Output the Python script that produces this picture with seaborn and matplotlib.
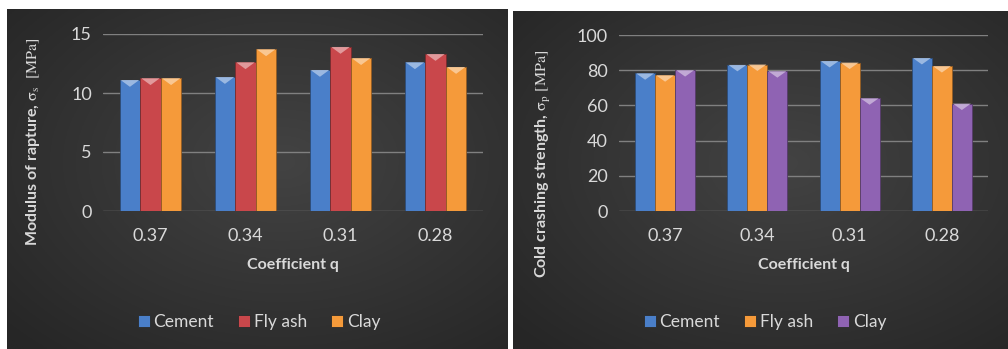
import numpy as np
import pandas as pd
import matplotlib
matplotlib.use("Agg")
import matplotlib.pyplot as plt
import seaborn as sns
from matplotlib.patches import Polygon
from matplotlib.colors import to_rgb

# ---- data ----
q_labels = ["0.37", "0.34", "0.31", "0.28"]
materials = ["Cement", "Fly ash", "Clay"]

rupture_cement = [11.1, 11.35, 11.95, 12.6]
rupture_flyash = [11.25, 12.6, 13.9, 13.3]
rupture_clay = [11.25, 13.7, 12.95, 12.2]

crushing_cement = [78.2, 83.0, 85.2, 86.9]
crushing_flyash = [77.1, 83.2, 84.3, 82.3]
crushing_clay = [80.0, 79.4, 64.0, 61.0]

left_colors = ["#4a7fc9", "#c9474b", "#f59a3a"]
right_colors = ["#4a7fc9", "#f59a3a", "#8f63b3"]

sns.set_theme(style="dark")
plt.rcParams["font.family"] = ["Lato", "DejaVu Sans"]
plt.rcParams["mathtext.fontset"] = "stix"

TXT = "#d9d9d9"
GRID = "#808080"


def long_frame(series):
    rows = []
    for mat, vals in zip(materials, series):
        for q, v in zip(q_labels, vals):
            rows.append({"q": q, "material": mat, "value": v})
    return pd.DataFrame(rows)


W, H = 1008, 349
fig = plt.figure(figsize=(W / 100, H / 100), dpi=100)
fig.patch.set_facecolor("white")


def panel_background(x0, y0, x1, y1, cx, cy):
    """Dark radial-gradient panel given in pixel coordinates (top-left origin)."""
    bg = fig.add_axes([x0 / W, 1 - y1 / H, (x1 - x0) / W, (y1 - y0) / H], zorder=-5)
    nx, ny = 300, 200
    xs = np.linspace(0, 1, nx)
    ys = np.linspace(0, 1, ny)
    X, Y = np.meshgrid(xs, ys)
    r = np.sqrt(((X - cx) / 0.75) ** 2 + ((Y - cy) / 0.75) ** 2)
    r = np.clip(r, 0, 1)
    inner = np.array(to_rgb("#434343"))
    outer = np.array(to_rgb("#262626"))
    img = inner[None, None, :] * (1 - r[..., None]) + outer[None, None, :] * r[..., None]
    bg.imshow(img, aspect="auto", extent=[0, 1, 0, 1], origin="upper")
    bg.set_axis_off()


def add_bevels(ax, colors_by_container):
    """Lighter chevron at the top of every bar."""
    inv = ax.transData.inverted()
    for cont, col in zip(ax.containers, colors_by_container):
        light = np.array(to_rgb(col))
        light = tuple(light + (1 - light) * 0.5)
        for p in cont.patches:
            x0, w = p.get_x(), p.get_width()
            top = p.get_y() + p.get_height()
            (dx0, dtop) = ax.transData.transform((x0, top))
            (dx1, _) = ax.transData.transform((x0 + w, top))
            depth = 7
            pts_disp = [(dx0 + 1, dtop), (dx1 - 1, dtop),
                        ((dx0 + dx1) / 2, dtop - depth)]
            pts = inv.transform(pts_disp)
            ax.add_patch(Polygon(pts, closed=True, facecolor=light,
                                 edgecolor="none", alpha=0.9, zorder=3))


def draw_chart(rect_px, series, colors, ylim, yticks, ylabel, ylab_pos, legend_center):
    x0, y0, x1, y1 = rect_px
    ax = fig.add_axes([x0 / W, 1 - y1 / H, (x1 - x0) / W, (y1 - y0) / H])
    ax.set_facecolor("none")
    df = long_frame(series)
    sns.barplot(data=df, x="q", y="value", hue="material", hue_order=materials,
                order=q_labels, palette=colors, width=0.65, gap=0,
                edgecolor="#2a2a2a", linewidth=0.6, saturation=1, ax=ax, zorder=2)
    for cont, col in zip(ax.containers, colors):
        dark = tuple(np.array(to_rgb(col)) * 0.6)
        for p in cont.patches:
            p.set_edgecolor(dark)
    add_bevels(ax, colors)

    ax.set_ylim(*ylim)
    ax.set_yticks(yticks)
    ax.set_xlim(-0.5, len(q_labels) - 0.5)
    ax.yaxis.grid(True, color=GRID, linewidth=1.0, zorder=0)
    ax.xaxis.grid(False)
    ax.set_axisbelow(True)
    for s in ax.spines.values():
        s.set_visible(False)
    ax.tick_params(axis="both", colors=TXT, labelsize=13, length=0, pad=8)
    ax.tick_params(axis="x", pad=12)
    ax.set_xlabel("Coefficient q", color=TXT, fontsize=11.5, fontweight="bold", labelpad=10)
    ax.set_ylabel(ylabel, color=TXT, fontsize=11.5, fontweight="bold")
    ax.yaxis.set_label_coords(*ylab_pos)

    handles, labels = ax.get_legend_handles_labels()
    if ax.legend_ is not None:
        ax.legend_.remove()
    leg = fig.legend(handles, labels, loc="center",
                     bbox_to_anchor=(legend_center[0] / W, 1 - legend_center[1] / H),
                     ncol=3, frameon=False, fontsize=12.5, handlelength=0.7,
                     handleheight=0.7, handletextpad=0.2, columnspacing=1.4)
    for t in leg.get_texts():
        t.set_color(TXT)
    return ax


# panel backgrounds
panel_background(7, 9, 508, 349, 0.55, 0.45)
panel_background(513, 11, 1008, 349, 0.55, 0.45)

draw_chart((103, 34, 483, 211),
           [rupture_cement, rupture_flyash, rupture_clay],
           left_colors, (0, 15), [0, 5, 10, 15],
           r"Modulus of rapture, $\mathrm{σ}_\mathrm{s}$  $\mathrm{[MPa]}$",
           (-0.16, 0.39), (259, 322))

draw_chart((619, 35, 988, 211),
           [crushing_cement, crushing_flyash, crushing_clay],
           right_colors, (0, 100), [0, 20, 40, 60, 80, 100],
           r"Cold crashing strength, $\mathrm{σ}_\mathrm{p}$ $\mathrm{[MPa]}$",
           (-0.18, 0.27), (765, 322))

fig.savefig("out.png", dpi=100, facecolor=fig.get_facecolor())
